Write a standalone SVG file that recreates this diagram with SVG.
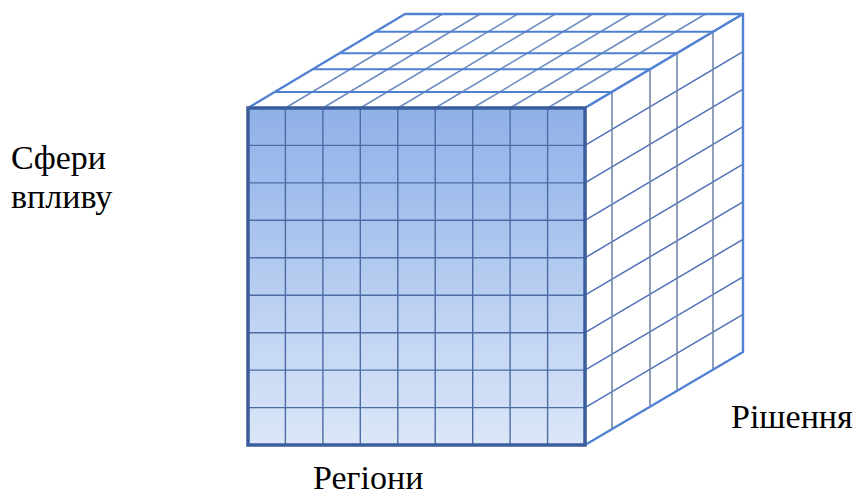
<svg xmlns="http://www.w3.org/2000/svg" width="864" height="497" viewBox="0 0 864 497">
<defs>
<linearGradient id="fg" x1="0" y1="0" x2="0" y2="1">
<stop offset="0" stop-color="#8fb0e8"/>
<stop offset="1" stop-color="#dbe7f8"/>
</linearGradient>
</defs>
<style>
.lbl{font-family:Tinos,"Times New Roman","Liberation Serif","Nimbus Roman","FreeSerif","Noto Serif","DejaVu Serif",serif;font-size:34px;fill:#000}
.fgrid{stroke:#4d6ca6;stroke-width:1.4;fill:none}
.tdiag{stroke:#6d8cc4;stroke-width:1.5;fill:none}
.thor{stroke:#4f7fd0;stroke-width:2;fill:none}
.rvert{stroke:#7388a8;stroke-width:1.6;fill:none}
.rdiag{stroke:#4f6fb6;stroke-width:1.5;fill:none}
.edge{stroke:#5282d2;stroke-width:2.4;fill:none;stroke-linejoin:round}
</style>
<rect width="864" height="497" fill="#fff"/>

<g id="top-face">
<polygon points="248,108 585,108 743,14 405,14" fill="#fff"/>
<path class="tdiag" d="M285.4,108L442.6,14M322.9,108L480.1,14M360.3,108L517.7,14M397.8,108L555.2,14M435.2,108L592.8,14M472.7,108L630.3,14M510.1,108L667.9,14M547.6,108L705.4,14"/>
<path class="thor" d="M274.7,91.9H612M312.5,69.3H650M339.2,53.3H677M375.1,31.8H713"/>
<polygon class="edge" points="248,108 585,108 743,14 405,14"/>
</g>

<g id="right-face">
<polygon points="585,108 743,14 743,352 585,445" fill="#fff"/>
<path class="rdiag" d="M585,145.4L743,51.6M585,182.9L743,89.1M585,220.3L743,126.7M585,257.8L743,164.2M585,295.2L743,201.8M585,332.7L743,239.3M585,370.1L743,276.9M585,407.6L743,314.4"/>
<path class="rvert" d="M612,91.9V429.1M650,69.3V406.7M677,53.3V390.8M713,31.8V369.7"/>
<polygon class="edge" points="585,108 743,14 743,352 585,445"/>
</g>

<g id="front-face">
<rect x="248" y="108" width="337" height="337" fill="url(#fg)"/>
<path class="fgrid" d="M285.4,108V445M322.9,108V445M360.3,108V445M397.8,108V445M435.2,108V445M472.7,108V445M510.1,108V445M547.6,108V445M248,145.4H585M248,182.9H585M248,220.3H585M248,257.8H585M248,295.2H585M248,332.7H585M248,370.1H585M248,407.6H585"/>
<rect x="248" y="108" width="337" height="337" fill="none" stroke="#3c5d9c" stroke-width="3.5"/>
</g>

<g id="label-spheres">
<text class="lbl" x="11" y="169">Сфери</text>
<text class="lbl" x="11" y="208">впливу</text>
</g>
<g id="label-decisions">
<text class="lbl" x="731" y="428">Рішення</text>
</g>
<g id="label-regions">
<text class="lbl" x="313" y="489">Регіони</text>
</g>
</svg>
